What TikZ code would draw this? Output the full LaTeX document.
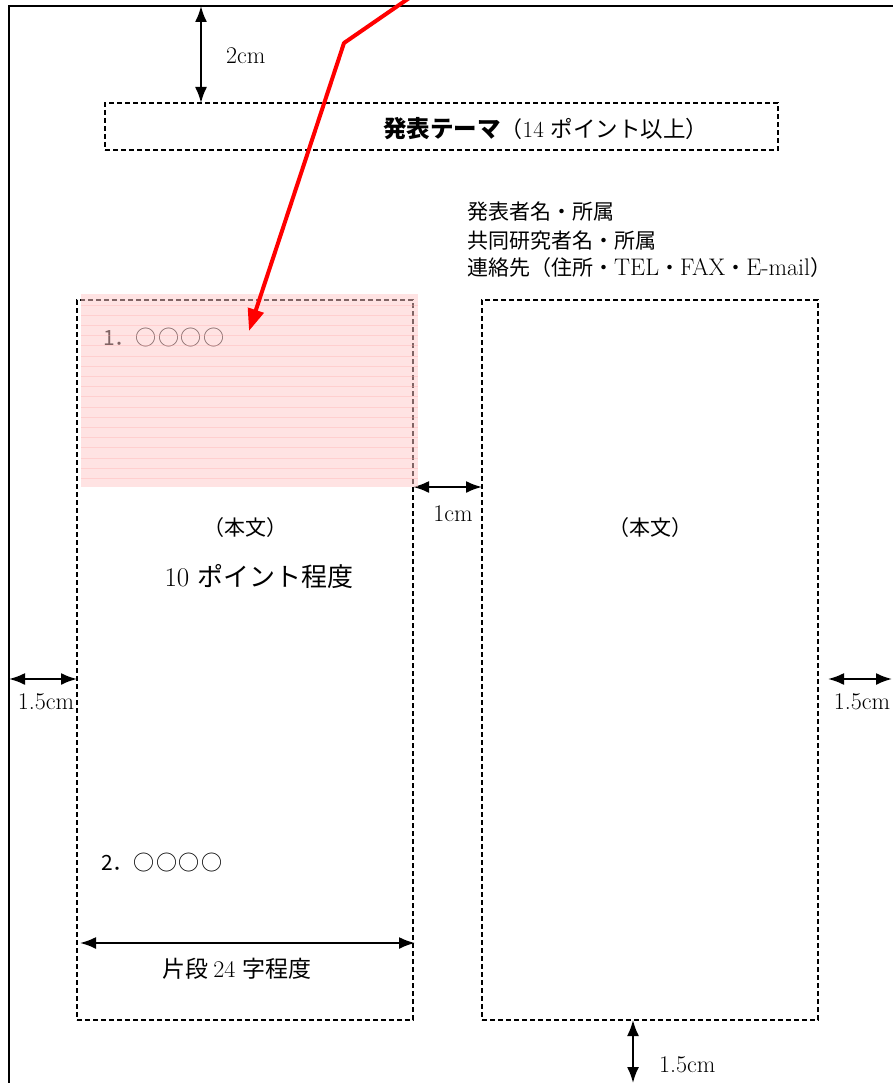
\documentclass[tikz,border=0pt]{standalone}
\usepackage{fontspec}
\newfontfamily\jp{Noto Sans CJK JP}
\usetikzlibrary{arrows.meta}
\definecolor{pinkover}{RGB}{255,200,200}
\definecolor{pinkline}{RGB}{255,170,170}
\definecolor{arrred}{RGB}{255,0,0}
\newcommand\fourcirc{○\kern1.5pt○\kern1.5pt○\kern1.5pt○}
\tikzset{
  dashbox/.style={draw=black, line width=1.2pt, dash pattern=on 5pt off 3pt},
  dimarrow/.style={line width=2pt, {Latex[length=16pt,width=12pt]}-{Latex[length=16pt,width=12pt]}},
  dimlabel/.style={inner sep=0pt, font=\rmfamily\fontsize{24}{28}\selectfont},
  jplabel/.style={inner sep=0pt, font=\jp\fontsize{21}{26}\selectfont},
}
\begin{document}
\begin{tikzpicture}[x=1pt,y=-1pt]
\useasboundingbox (0,0) rectangle (892,1083);
% page border
\coordinate (pBL) at (9,1090);
\coordinate (pTL) at (9,6);
\coordinate (pTR) at (900,6);
\draw[line width=2pt] (pBL) -- (pTL) -- (pTR);
% title box
\node[dashbox, minimum width=673pt, minimum height=47pt, inner sep=0pt] (title) at (441.5,126.5) {};
\node[anchor=base west, inner sep=0pt] (titletext) at (383,138)
  {{\jp\bfseries\fontsize{23.5}{28}\selectfont 発表テーマ}{\jp\fontsize{22}{24}\selectfont （}{\rmfamily\fontsize{23}{24}\selectfont 14 }{\jp\fontsize{22.5}{24}\selectfont ポイント以上）}};
% 2cm arrow
\coordinate (topA) at (201,6);
\coordinate (topB) at (201,103);
\draw[dimarrow] (topA) -- (topB);
\node[dimlabel, anchor=base west] (lab2cm) at (226,64) {2cm};
% authors
\node[jplabel, anchor=base west] (auth1) at (467,220) {発表者名・所属};
\node[jplabel, anchor=base west] (auth2) at (467,248) {共同研究者名・所属};
\node[jplabel, anchor=base west] (auth3) at (467,275) {連絡先（住所・{\rmfamily\fontsize{24}{26}\selectfont TEL}・{\rmfamily\fontsize{24}{26}\selectfont FAX}・{\rmfamily\fontsize{24}{26}\selectfont E-mail}）};
% column boxes
\node[dashbox, minimum width=336pt, minimum height=720pt, inner sep=0pt] (colL) at (245,660) {};
\node[dashbox, minimum width=336pt, minimum height=720pt, inner sep=0pt] (colR) at (650,660) {};
% texts in columns
\node[jplabel, anchor=base west, font=\jp\fontsize{21}{26}\selectfont] (sec1) at (103,345) {1．\fourcirc};
\node[jplabel, anchor=base] (honbunL) at (245,535) {（本文）};
\node[anchor=base, inner sep=0pt] (tenpt) at (259,586) {{\rmfamily\fontsize{27}{30}\selectfont 10 }{\jp\fontsize{26}{30}\selectfont ポイント程度}};
\node[jplabel, anchor=base] (honbunR) at (650,535) {（本文）};
\node[jplabel, anchor=base west, font=\jp\fontsize{21}{26}\selectfont] (sec2) at (101,870) {2．\fourcirc};
% 1cm
\coordinate (gapA) at (413,487);
\coordinate (gapB) at (482,487);
\draw[dimarrow] (gapA) -- (gapB);
\node[dimlabel, anchor=base] (lab1cm) at (453,521) {1cm};
% left 1.5cm
\coordinate (lmA) at (9,679);
\coordinate (lmB) at (77,679);
\draw[dimarrow] (lmA) -- (lmB);
\node[dimlabel, anchor=base] (lab15L) at (46,709) {1.5cm};
% right 1.5cm
\coordinate (rmA) at (828,679);
\coordinate (rmB) at (892,679);
\draw[dimarrow] (rmA) -- (rmB);
\node[dimlabel, anchor=base] (lab15R) at (862,709) {1.5cm};
% column width
\coordinate (cwA) at (80,943);
\coordinate (cwB) at (415,943);
\draw[dimarrow] (cwA) -- (cwB);
\node[anchor=base, inner sep=0pt] (labcw) at (237,977) {{\jp\fontsize{23}{26}\selectfont 片段 }{\rmfamily\fontsize{24}{26}\selectfont 24 }{\jp\fontsize{23}{26}\selectfont 字程度}};
% bottom 1.5cm
\coordinate (bmA) at (633,1020);
\coordinate (bmB) at (633,1083);
\draw[dimarrow] (bmA) -- (bmB);
\node[dimlabel, anchor=base west] (lab15B) at (659,1072) {1.5cm};
% pink highlight overlay
\fill[pinkover, fill opacity=0.5] (81,294) rectangle (418,487);
\foreach \yy in {305,315.2,...,487} {
  \draw[pinkline, opacity=0.35, line width=0.8pt] (81,\yy) -- (418,\yy);
}
% red pointer
\coordinate (rA) at (415,-6);
\coordinate (rB) at (344,43);
\coordinate (rC) at (249,331);
\draw[arrred, line width=4pt, line join=round, -{Triangle[length=22pt,width=16pt]}] (rA) -- (rB) -- (rC);
\end{tikzpicture}
\end{document}
